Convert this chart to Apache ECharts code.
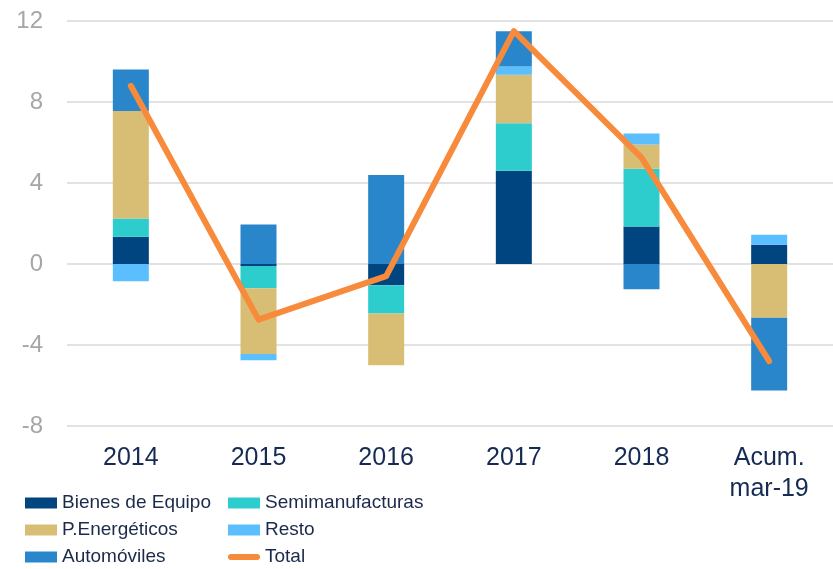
<!DOCTYPE html>
<html>
<head>
<meta charset="utf-8">
<script src="https://cdn.jsdelivr.net/npm/echarts@6/dist/echarts.min.js"></script>
<style>
  html, body { margin: 0; padding: 0; background: #fff; }
  #chart { width: 833px; height: 569px; }
</style>
</head>
<body>
<div id="chart"></div>
<script>
// categorías y valores (contribuciones, p.p.)
const categories = ['2014', '2015', '2016', '2017', '2018', 'Acum.\nmar-19']
const bienesEquipo = [1.35, -0.1, -1.05, 4.6, 1.85, 0.95]
const semimanufacturas = [0.9, -1.1, -1.4, 2.35, 2.85, 0]
const pEnergeticos = [5.3, -3.25, -2.55, 2.4, 1.2, -2.65]
const resto = [-0.85, -0.3, 0, 0.4, 0.55, 0.5]
const automoviles = [2.05, 1.95, 4.4, 1.75, -1.25, -3.6]
const total = [8.8, -2.75, -0.6, 11.5, 5.25, -4.8]
const yTicks = [-8, -4, 0, 4, 8, 12]

const colors = {
  bienes: '#004480',
  semi: '#2DCCCD',
  pen: '#D8BE75',
  resto: '#5BBEFF',
  auto: '#2A86CA',
  total: '#F78B3B'
}

const legendFont = {
  fontFamily: '"Liberation Sans", Arial, sans-serif',
  fontSize: 19,
  color: '#1B2A4A',
  lineHeight: 22
}

// una leyenda por elemento para colocarlas en dos columnas
const legendAt = (name, left, centerY, extra = {}) => ({
  data: [name],
  left: left,
  top: centerY - 11,
  padding: 0,
  icon: 'rect',
  itemWidth: 32,
  itemHeight: 11,
  itemGap: 0,
  selectedMode: false,
  textStyle: legendFont,
  ...extra
})

const barSeries = (name, data, color) => ({
  name,
  type: 'bar',
  stack: 'total',
  barWidth: 36,
  data,
  itemStyle: { color }
})

const chart = echarts.init(document.getElementById('chart'))

chart.setOption({
  animation: false,
  grid: { left: 67, right: 0, top: 21, bottom: 143, containLabel: false },
  legend: [
    legendAt('Bienes de Equipo', 25, 503),
    legendAt('Semimanufacturas', 228, 503),
    legendAt('P.Energéticos', 25, 530),
    legendAt('Resto', 228, 530),
    legendAt('Automóviles', 25, 557),
    legendAt('Total', 228, 557, {
      icon: 'path://M3,0 L29,0 A3,3 0 0 1 29,6 L3,6 A3,3 0 0 1 3,0 Z',
      itemWidth: 32,
      itemHeight: 7
    })
  ],
  xAxis: {
    type: 'category',
    data: categories,
    axisLine: { show: false, onZero: false },
    axisTick: { show: false },
    axisLabel: {
      margin: 17,
      fontFamily: '"Liberation Sans", Arial, sans-serif',
      fontSize: 25,
      lineHeight: 31,
      color: '#152B54'
    }
  },
  yAxis: {
    type: 'value',
    min: yTicks[0],
    max: yTicks[yTicks.length - 1],
    interval: 4,
    axisLine: { show: false },
    axisTick: { show: false },
    axisLabel: {
      margin: 24,
      fontFamily: '"Liberation Sans", Arial, sans-serif',
      fontSize: 24,
      color: '#A6A6A6'
    },
    splitLine: { lineStyle: { color: '#D9D9D9', width: 1.5 } }
  },
  series: [
    barSeries('Bienes de Equipo', bienesEquipo, colors.bienes),
    barSeries('Semimanufacturas', semimanufacturas, colors.semi),
    barSeries('P.Energéticos', pEnergeticos, colors.pen),
    barSeries('Resto', resto, colors.resto),
    barSeries('Automóviles', automoviles, colors.auto),
    {
      name: 'Total',
      type: 'line',
      data: total,
      z: 5,
      symbol: 'none',
      itemStyle: { color: colors.total },
      lineStyle: { color: colors.total, width: 6, cap: 'round', join: 'round' }
    }
  ]
})
</script>
</body>
</html>
